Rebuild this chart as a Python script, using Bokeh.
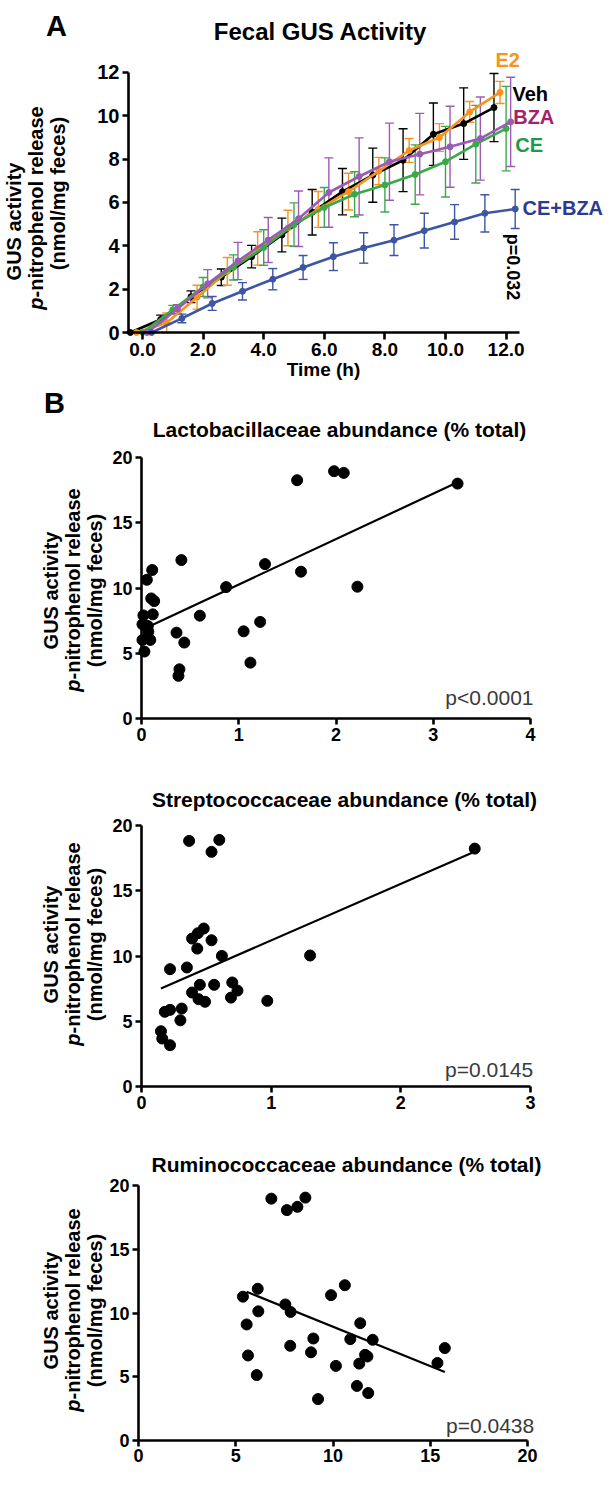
import math
from bokeh.plotting import figure
from bokeh.models import (ColumnDataSource, Whisker, TeeHead, Label, FixedTicker,
                          PrintfTickFormatter, Range1d)
from bokeh.layouts import column
from bokeh.embed import file_html
from bokeh.resources import INLINE

FONT = "Liberation Sans"

# ---------------- Panel A data: Fecal GUS activity over time ----------------
veh_t = [-0.40, 0.60, 1.60, 2.60, 3.60, 4.60, 5.60, 6.60, 7.60, 8.60, 9.60, 10.60, 11.60]
veh_v = [0.0, 0.60, 1.65, 2.55, 3.50, 4.50, 5.55, 6.50, 7.26, 7.95, 9.15, 9.64, 10.38]
veh_e = [0.0, 0.20, 0.27, 0.38, 0.52, 0.78, 1.05, 1.07, 1.25, 1.45, 1.44, 1.65, 1.57]

e2_t = [-0.20, 0.80, 1.80, 2.80, 3.80, 4.80, 5.80, 6.80, 7.80, 8.80, 9.80, 10.80, 11.80]
e2_v = [0.0, 0.45, 1.63, 2.82, 3.88, 4.82, 5.68, 6.50, 7.45, 8.40, 9.00, 10.18, 11.08]
e2_e = [0.0, 0.45, 0.55, 0.64, 0.77, 0.82, 0.83, 0.85, 0.63, 0.55, 0.64, 0.48, 0.51]

ce_t = [0.00, 1.00, 2.00, 3.00, 4.00, 5.00, 6.00, 7.00, 8.00, 9.00, 10.00, 11.00, 12.00]
ce_v = [0.0, 1.05, 2.10, 3.00, 3.92, 4.98, 5.77, 6.38, 6.81, 7.29, 7.88, 8.69, 9.41]
ce_e = [0.0, 0.20, 0.44, 0.58, 0.82, 1.00, 0.92, 1.04, 1.25, 1.37, 1.63, 1.79, 1.95]

bza_t = [0.15, 1.15, 2.15, 3.15, 4.15, 5.15, 6.15, 7.15, 8.15, 9.15, 10.15, 11.15, 12.15]
bza_v = [0.0, 1.08, 2.25, 3.30, 4.27, 5.25, 6.46, 7.20, 7.88, 8.23, 8.57, 8.95, 9.72]
bza_e = [0.0, 0.20, 0.65, 0.86, 1.04, 1.28, 1.60, 1.78, 1.78, 1.88, 1.87, 1.92, 2.06]

cebza_t = [0.30, 1.30, 2.30, 3.30, 4.30, 5.30, 6.30, 7.30, 8.30, 9.30, 10.30, 11.30, 12.30]
cebza_v = [0.0, 0.65, 1.34, 1.90, 2.46, 3.00, 3.50, 3.90, 4.26, 4.70, 5.10, 5.50, 5.70]
cebza_e = [0.0, 0.20, 0.32, 0.40, 0.49, 0.55, 0.64, 0.70, 0.71, 0.80, 0.80, 0.86, 0.90]

series_names = ["Veh", "E2", "CE", "BZA", "CE+BZA"]
line_colors = ["#000000", "#F7931E", "#3AAA48", "#9B5BB5", "#3C55A5"]
label_colors = ["#000000", "#F7931E", "#1E9A4B", "#A3236A", "#2E3A8F"]

a_xticks = [0, 2, 4, 6, 8, 10, 12]
a_yticks = [0, 2, 4, 6, 8, 10, 12]

# ---------------- Panel B: Lactobacillaceae ----------------
lacto_x = [1.60, 1.98, 2.08, 3.25, 1.64, 2.22, 0.41, 0.11, 0.055, 0.10, 0.13, 0.116, 0.02,
           0.01, 0.065, 0.07, 0.01, 0.09, 0.03, 0.36, 0.44, 0.39, 0.38, 0.60, 0.87, 1.05,
           1.22, 1.12, 1.27]
lacto_y = [18.26, 18.95, 18.82, 18.00, 11.25, 10.10, 12.14, 11.38, 10.63, 9.20, 9.00, 7.98,
           7.90, 7.22, 7.09, 6.66, 6.02, 6.02, 5.13, 6.58, 5.82, 3.77, 3.27, 7.88, 10.07, 6.68,
           7.40, 4.28, 11.83]
lacto_fit_x = [0.05, 3.25]
lacto_fit_y = [6.96, 18.10]
lacto_p = "p<0.0001"

# ---------------- Panel C: Streptococcaceae ----------------
strep_x = [0.367, 0.60, 0.54, 0.39, 0.435, 0.48, 0.43, 0.54, 0.62, 0.22, 0.35, 0.39, 0.45,
           0.44, 0.49, 0.56, 0.70, 0.74, 0.69, 0.97, 0.18, 0.22, 0.31, 0.30, 0.15, 0.16,
           0.22, 1.30, 2.57]
strep_y = [18.84, 18.92, 18.00, 11.35, 11.76, 12.12, 10.58, 11.22, 10.02, 9.00, 9.13, 7.21,
           7.80, 6.70, 6.50, 7.80, 7.98, 7.36, 6.82, 6.57, 5.73, 5.88, 5.98, 5.08, 4.24, 3.68,
           3.17, 10.05, 18.25]
strep_fit_x = [0.15, 2.55]
strep_fit_y = [7.52, 17.94]
strep_p = "p=0.0145"

# ---------------- Panel D: Ruminococcaceae ----------------
rum_x = [6.83, 7.63, 8.17, 8.58, 5.37, 6.13, 6.16, 5.56, 5.63, 6.08, 7.55, 7.82, 7.80, 8.99,
         8.87, 9.23, 9.90, 10.15, 10.61, 11.40, 10.89, 12.04, 11.65, 11.77, 11.35, 11.23,
         11.81, 15.75, 15.37]
rum_y = [18.97, 18.07, 18.33, 19.05, 11.28, 11.90, 10.13, 9.10, 6.67, 5.13, 10.67, 10.08,
         7.43, 8.00, 6.92, 3.25, 11.40, 5.85, 12.18, 9.20, 7.95, 7.90, 6.72, 6.59, 6.03, 4.28,
         3.72, 7.25, 6.08]
rum_fit_x = [5.56, 15.75]
rum_fit_y = [11.66, 5.38]
rum_p = "p=0.0438"

scatter_yticks = [0, 5, 10, 15, 20]

FIG_LEFT = 8
FIG_W = 606


# ---------------- helpers ----------------
class Mapper:
    """page pixel -> data conversion for one panel (used to place texts)"""
    def __init__(self, x_px0, ppx, y_px0, ppy):
        self.x_px0, self.ppx, self.y_px0, self.ppy = x_px0, ppx, y_px0, ppy

    def __call__(self, px, py):
        return (px - self.x_px0) / self.ppx, (self.y_px0 - py) / self.ppy


def make_fig(top, height, m):
    x0, _ = m(FIG_LEFT, 0)
    x1, _ = m(FIG_LEFT + FIG_W, 0)
    _, y0 = m(0, top + height)
    _, y1 = m(0, top)
    p = figure(width=FIG_W, height=height, x_range=Range1d(x0, x1), y_range=Range1d(y0, y1),
               output_backend="svg", toolbar_location=None,
               min_border_left=0, min_border_right=0, min_border_top=0, min_border_bottom=0)
    p.title.visible = False
    p.outline_line_color = None
    p.xgrid.visible = False
    p.ygrid.visible = False
    p.background_fill_color = "white"
    p.border_fill_color = "white"
    return p


def style_axis(ax, ticks, bounds, fixed, size="18px", tick_out=6, standoff=3):
    ax.fixed_location = fixed
    ax.ticker = FixedTicker(ticks=ticks)
    ax.bounds = bounds
    ax.axis_line_width = 2.6
    ax.axis_line_color = "black"
    ax.major_tick_line_width = 2.6
    ax.major_tick_line_color = "black"
    ax.major_tick_out = tick_out
    ax.major_tick_in = 0
    ax.minor_tick_out = 0
    ax.minor_tick_in = 0
    ax.minor_tick_line_color = None
    ax.major_label_text_font = FONT
    ax.major_label_text_font_style = "bold"
    ax.major_label_text_font_size = size
    ax.major_label_text_color = "black"
    ax.major_label_standoff = standoff


def add_text(p, m, px, py, text, size, style="bold", color="black", align="center",
             baseline="middle", angle=0.0):
    x, y = m(px, py)
    p.add_layout(Label(x=x, y=y, x_units="data", y_units="data", text=text,
                       text_font=FONT, text_font_size=size, text_font_style=style,
                       text_color=color, text_align=align, text_baseline=baseline,
                       angle=angle))


def add_ylabel(p, m, xs, yc, p_anchor, size):
    add_text(p, m, xs[0], yc[0], "GUS activity", size, angle=math.pi / 2)
    add_text(p, m, xs[1], p_anchor, "p", size, style="bold italic", align="right",
             angle=math.pi / 2)
    add_text(p, m, xs[1], p_anchor, "-nitrophenol release", size, align="left",
             angle=math.pi / 2)
    add_text(p, m, xs[2], yc[2], "(nmol/mg feces)", size, angle=math.pi / 2)


# ---------------- Panel A ----------------
A_TOP, A_H = 8, 381
mA = Mapper(150, 30.3, 340, 21.67)
pA = make_fig(A_TOP, A_H, mA)

ts = [veh_t, e2_t, ce_t, bza_t, cebza_t]
vs = [veh_v, e2_v, ce_v, bza_v, cebza_v]
es = [veh_e, e2_e, ce_e, bza_e, cebza_e]
for t, v, e, col in zip(ts, vs, es, line_colors):
    src = ColumnDataSource(dict(t=t, v=v, lo=[a - b for a, b in zip(v, e)],
                                hi=[a + b for a, b in zip(v, e)]))
    pA.add_layout(Whisker(source=src, base="t", upper="hi", lower="lo", dimension="height",
                          line_color=col, line_width=1.4,
                          upper_head=TeeHead(size=9, line_color=col, line_width=1.4),
                          lower_head=TeeHead(size=9, line_color=col, line_width=1.4)))
for t, v, e, col in zip(ts, vs, es, line_colors):
    src = ColumnDataSource(dict(t=t, v=v))
    pA.line("t", "v", source=src, line_color=col, line_width=2.6)
    pA.scatter("t", "v", source=src, marker="circle", size=6, fill_color=col, line_color=col)

x_left_A, _ = mA(136, 0)
x_right_A, _ = mA(527, 0)
style_axis(pA.xaxis[0], a_xticks, (x_left_A, x_right_A), 0, size="19px", tick_out=7,
           standoff=3)
style_axis(pA.yaxis[0], a_yticks, (0, 12), x_left_A, size="20px")
pA.xaxis[0].formatter = PrintfTickFormatter(format="%.1f")

add_text(pA, mA, 331, 377, "Time (h)", "19px")
add_text(pA, mA, 64, 33.5, "A", "29px", baseline="alphabetic")
add_text(pA, mA, 328, 38.5, "Fecal GUS Activity", "24px")
label_pos = [(520, 101.7), (503, 67.5), (522.7, 152.5), (520.7, 124.3), (530, 215.5)]
for name, col, (lx, ly) in zip(series_names, label_colors, label_pos):
    add_text(pA, mA, lx, ly, name, "20px", color=col, align="left")
add_text(pA, mA, 520.8, 274.5, "p=0.032", "18px", angle=-math.pi / 2)
add_ylabel(pA, mA, [21, 43, 65], [229, 215.5, 201], 305, "20px")


# ---------------- Scatter panels ----------------
def scatter_panel(top, height, x_end, xticks, x0_px, x_end_px, y0_px, ppy,
                  xs, ys, fx, fy, ptxt, title, title_pos, p_pos, ylab_yc, letter=None,
                  standoff=3):
    m = Mapper(x0_px, (x_end_px - x0_px) / x_end, y0_px, ppy)
    p = make_fig(top, height, m)
    src = ColumnDataSource(dict(x=xs, y=ys))
    p.line(fx, fy, line_color="black", line_width=2.2)
    p.scatter("x", "y", source=src, marker="circle", size=11, fill_color="black",
              line_color="black")
    style_axis(p.xaxis[0], xticks, (0, x_end), 0, standoff=standoff)
    style_axis(p.yaxis[0], scatter_yticks, (0, 20), 0)
    add_text(p, m, title_pos[0], title_pos[1], title, "21px")
    add_text(p, m, p_pos[0], p_pos[1], ptxt, "21px", style="normal", color="#3a3a3a",
             align="right")
    add_ylabel(p, m, [58, 80, 102], [ylab_yc, ylab_yc, ylab_yc], ylab_yc + 89, "20px")
    if letter:
        add_text(p, m, letter[0], letter[1], letter[2], "29px")
    return p


B_TOP = A_TOP + A_H
pB = scatter_panel(B_TOP, 760 - B_TOP, 4, [0, 1, 2, 3, 4], 149, 538, 726, 13.05,
                   lacto_x, lacto_y, lacto_fit_x, lacto_fit_y, lacto_p,
                   "Lactobacillaceae abundance (% total)", (347, 437), (541, 705), 598,
                   letter=(62, 410, "B"))
pC = scatter_panel(760, 368, 3, [0, 1, 2, 3], 149, 538, 1094, 13.035,
                   strep_x, strep_y, strep_fit_x, strep_fit_y, strep_p,
                   "Streptococcaceae abundance (% total)", (352, 806.5), (540.7, 1076.5), 952)
pD = scatter_panel(1128, 349, 20, [0, 5, 10, 15, 20], 146, 535, 1448, 12.75,
                   rum_x, rum_y, rum_fit_x, rum_fit_y, rum_p,
                   "Ruminococcaceae abundance (% total)", (354, 1172), (541.7, 1433), 1318,
                   standoff=2)

layout = column(pA, pB, pC, pD, spacing=0)
open("out.html", "w").write(file_html(layout, INLINE))
